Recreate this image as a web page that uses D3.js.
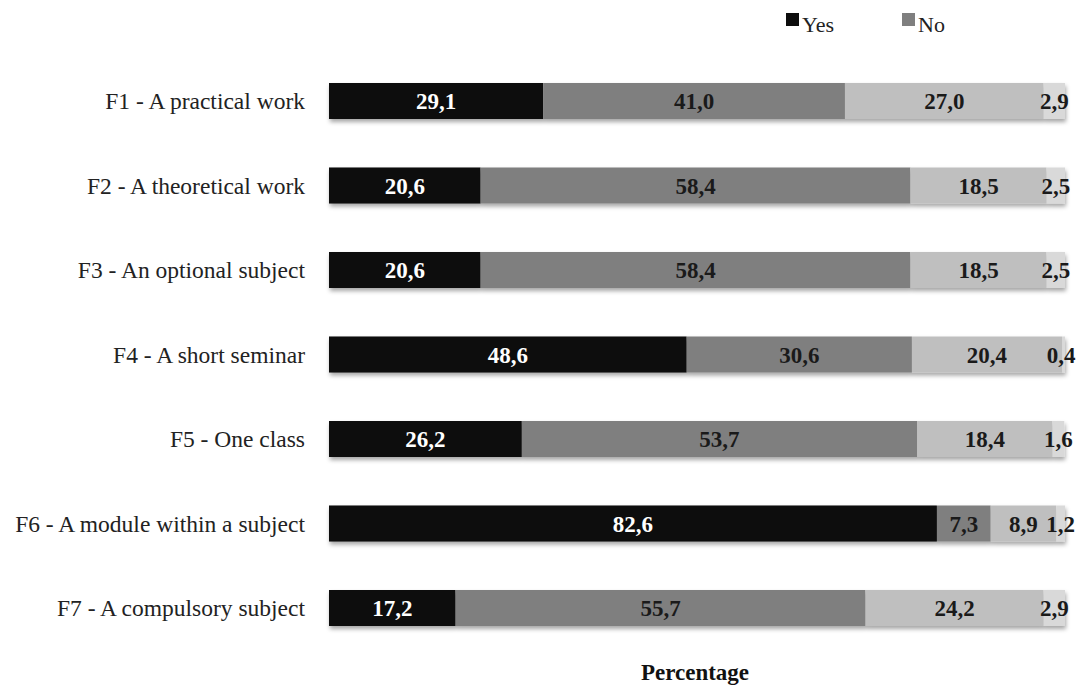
<!DOCTYPE html>
<html><head><meta charset="utf-8">
<script src="https://cdn.jsdelivr.net/npm/d3@7"></script>
<style>body{margin:0;background:#fff}svg{display:block}</style>
</head><body>
<svg id="c" width="1079" height="688"></svg>
<script>
const categories = ["F1 - A practical work","F2 - A theoretical work","F3 - An optional subject","F4 - A short seminar","F5 - One class","F6 - A module within a subject","F7 - A compulsory subject"];
const seriesNames = ["Yes","No","Other1","Other2"];
const yesValues = [29.1,20.6,20.6,48.6,26.2,82.6,17.2];
const noValues = [41.0,58.4,58.4,30.6,53.7,7.3,55.7];
const thirdValues = [27.0,18.5,18.5,20.4,18.4,8.9,24.2];
const fourthValues = [2.9,2.5,2.5,0.4,1.6,1.2,2.9];
const legendNames = ["Yes","No"];
const xTitle = "Percentage";

const FONT = "Liberation Serif";
const colors = ["#0d0d0d","#7f7f7f","#bfbfbf","#d9d9d9"];
const labelColors = ["#ffffff","#1a1a1a","#1a1a1a","#1a1a1a"];
const rows = categories.map((c,i)=>({cat:c, Yes:yesValues[i], No:noValues[i], Other1:thirdValues[i], Other2:fourthValues[i]}));
const stack = d3.stack().keys(seriesNames)(rows);

const svg = d3.select("#c");
const x = d3.scaleLinear().domain([0,100]).range([329,1065]);
const y = d3.scaleBand().domain(categories).range([58.75,650.25]).paddingInner(0.574).paddingOuter(0.287);
const loc = d3.formatLocale({decimal:",",thousands:".",grouping:[3],currency:["",""]});
const fmt = loc.format(".1f");

const defs = svg.append("defs");
const f = defs.append("filter").attr("id","sh").attr("x","-5%").attr("y","-20%").attr("width","110%").attr("height","160%");
f.append("feDropShadow").attr("dx",1).attr("dy",3).attr("stdDeviation",2).attr("flood-color","#000").attr("flood-opacity",0.35);

const bars = svg.append("g").attr("filter","url(#sh)");
stack.forEach((s,si)=>{
  bars.selectAll(null).data(s).enter().append("rect")
    .attr("x",d=>x(d[0])).attr("width",d=>x(d[1])-x(d[0]))
    .attr("y",d=>y(d.data.cat)).attr("height",y.bandwidth())
    .attr("fill",colors[si]);
});
const lab = svg.append("g").style("font-family",FONT).style("font-weight","bold").style("font-size","23px").attr("text-anchor","middle");
stack.forEach((s,si)=>{
  lab.selectAll(null).data(s).enter().append("text")
    .attr("x",d=>{const c=(x(d[0])+x(d[1]))/2; return Math.min(c,1061);})
    .attr("y",d=>y(d.data.cat)+y.bandwidth()/2).attr("dy","0.35em")
    .attr("fill",labelColors[si])
    .text(d=>fmt(d[1]-d[0]));
});

const ax = svg.append("g").attr("transform","translate(329,0)")
  .call(d3.axisLeft(y).tickSize(0).tickPadding(24));
ax.attr("font-family",null).attr("font-size",null);
ax.select(".domain").remove();
ax.selectAll("text").style("font-family",FONT).style("font-size","23.5px").attr("fill","#222").attr("dy","0.35em");

const lg = svg.append("g").style("font-family",FONT).style("font-size","22px").attr("fill","#222");
const lx = [786,902];
legendNames.forEach((n,i)=>{
  lg.append("rect").attr("x",lx[i]).attr("y",13).attr("width",13).attr("height",13).attr("fill",colors[i]);
  lg.append("text").attr("x",lx[i]+16).attr("y",32).text(n);
});

svg.append("text").attr("x",695).attr("y",680).attr("text-anchor","middle")
  .style("font-family",FONT).style("font-weight","bold").style("font-size","23px").attr("fill","#111").text(xTitle);
</script>
</body></html>
